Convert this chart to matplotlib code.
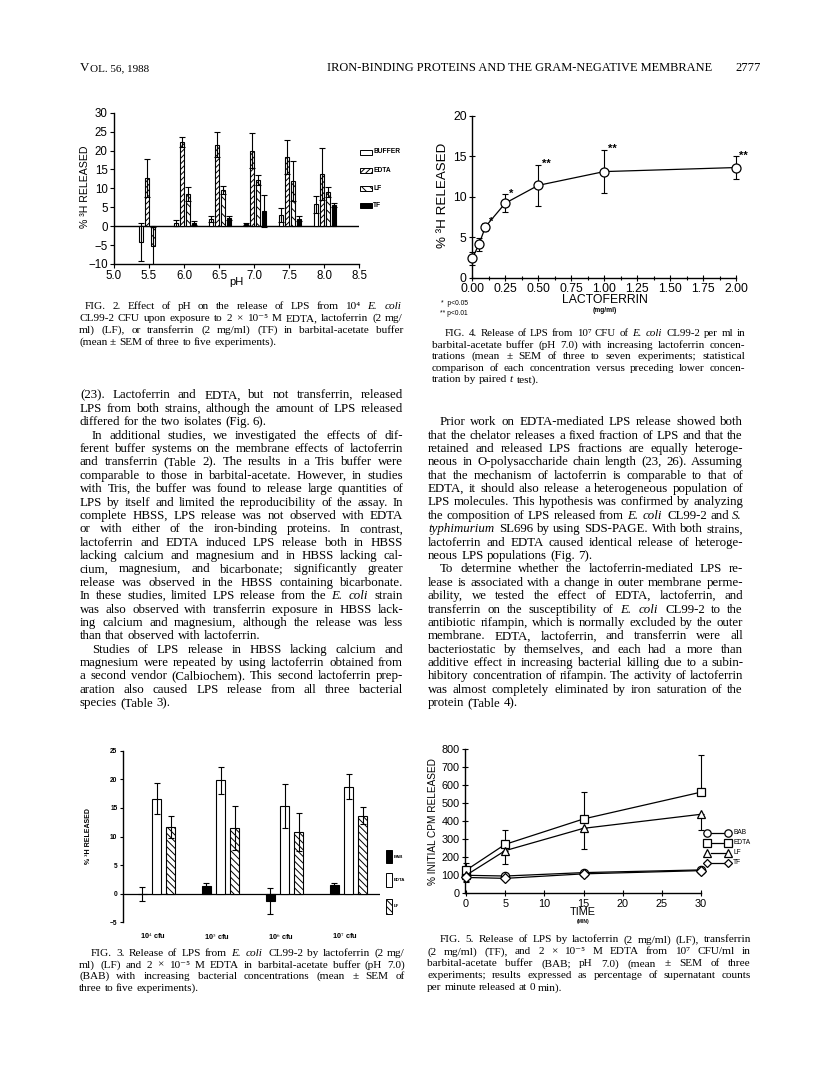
import matplotlib
matplotlib.use('Agg')
import matplotlib.pyplot as plt
from matplotlib.patches import Rectangle
from matplotlib.lines import Line2D
import numpy as np

plt.rcParams['mathtext.fontset'] = 'stix'
plt.rcParams['hatch.linewidth'] = 0.7

SERIF = ['Liberation Serif', 'DejaVu Serif']
SANS = 'Liberation Sans'

# ---------------- data ----------------
# Fig. 2: release vs pH
ph = [5.5, 6.0, 6.5, 7.0, 7.5, 8.0]
buffer2 = [-4.2, 0.8, 1.8, 0.5, 3.0, 5.8]
buffer2_err = [5.0, 0.8, 0.8, 0.3, 1.8, 2.2]
edta2 = [12.8, 22.3, 21.5, 20.0, 18.3, 13.8]
edta2_err = [5.0, 1.3, 3.3, 4.6, 4.5, 6.9]
lf2 = [-5.2, 8.5, 9.6, 12.2, 12.0, 9.0]
lf2_err = [5.0, 1.9, 1.0, 1.4, 5.3, 1.3]
tf2 = [np.nan, 0.8, 2.2, 4.0, 2.0, 5.6]
tf2_err = [np.nan, 0.6, 0.6, 4.2, 0.6, 0.5]
labels2 = ['BUFFER', 'EDTA', 'LF', 'TF']

# Fig. 4: release vs lactoferrin concentration
lacto = [0.0, 0.05, 0.1, 0.25, 0.5, 1.0, 2.0]
rel4 = [2.4, 4.1, 6.3, 9.2, 11.4, 13.1, 13.6]
rel4_err = [0.8, 0.8, 0.5, 1.1, 2.5, 2.7, 1.4]
stars4 = ['', '', '*', '*', '**', '**', '**']

# Fig. 3: release vs bacterial concentration
cfu = ['10$^4$ cfu', '10$^5$ cfu', '10$^6$ cfu', '10$^7$ cfu']
bab3 = [0.0, 1.3, -1.3, 1.6]
bab3_err = [1.2, 0.5, 2.3, 0.2]
edta3 = [16.6, 19.8, 15.3, 18.7]
edta3_err = [2.7, 2.4, 3.8, 2.2]
lf3 = [11.7, 11.5, 10.8, 13.6]
lf3_err = [1.9, 3.8, 3.3, 1.5]

# Fig. 5: release vs time
time5 = [0, 5, 15, 30]
bab5 = [100, 96, 115, 130]
edta5 = [128, 272, 413, 562]
edta5_err = [40, 80, 150, 205]
lf5 = [100, 237, 361, 439]
lf5_err = [30, 74, 117, 88]
tf5 = [88, 83, 108, 126]
tf5_err = [25, 10, 8, 8]

# ---------------- page text ----------------
header_title = 'IRON-BINDING PROTEINS AND THE GRAM-NEGATIVE MEMBRANE'

cap2 = ['FIG. 2. Effect of pH on the release of LPS from 10⁴ _E._ _coli_',
        'CL99-2 CFU upon exposure to 2 × 10⁻⁵ M EDTA, lactoferrin (2 mg/',
        'ml) (LF), or transferrin (2 mg/ml) (TF) in barbital-acetate buffer',
        '(mean ± SEM of three to five experiments).']
cap3 = ['FIG. 3. Release of LPS from _E._ _coli_ CL99-2 by lactoferrin (2 mg/',
        'ml) (LF) and 2 × 10⁻⁵ M EDTA in barbital-acetate buffer (pH 7.0)',
        '(BAB) with increasing bacterial concentrations (mean ± SEM of',
        'three to five experiments).']
cap4 = ['FIG. 4. Release of LPS from 10⁷ CFU of _E._ _coli_ CL99-2 per ml in',
        'barbital-acetate buffer (pH 7.0) with increasing lactoferrin concen-',
        'trations (mean ± SEM of three to seven experiments; statistical',
        'comparison of each concentration versus preceding lower concen-',
        'tration by paired _t_ test).']
cap5 = ['FIG. 5. Release of LPS by lactoferrin (2 mg/ml) (LF), transferrin',
        '(2 mg/ml) (TF), and 2 × 10⁻⁵ M EDTA from 10⁷ CFU/ml in',
        'barbital-acetate buffer (BAB; pH 7.0) (mean ± SEM of three',
        'experiments; results expressed as percentage of supernatant counts',
        'per minute released at 0 min).']

left_text = [
    (False, ['(23). Lactoferrin and EDTA, but not transferrin, released',
             'LPS from both strains, although the amount of LPS released',
             'differed for the two isolates (Fig. 6).']),
    (True, ['In additional studies, we investigated the effects of dif-',
            'ferent buffer systems on the membrane effects of lactoferrin',
            'and transferrin (Table 2). The results in a Tris buffer were',
            'comparable to those in barbital-acetate. However, in studies',
            'with Tris, the buffer was found to release large quantities of',
            'LPS by itself and limited the reproducibility of the assay. In',
            'complete HBSS, LPS release was not observed with EDTA',
            'or with either of the iron-binding proteins. In contrast,',
            'lactoferrin and EDTA induced LPS release both in HBSS',
            'lacking calcium and magnesium and in HBSS lacking cal-',
            'cium, magnesium, and bicarbonate; significantly greater',
            'release was observed in the HBSS containing bicarbonate.',
            'In these studies, limited LPS release from the _E._ _coli_ strain',
            'was also observed with transferrin exposure in HBSS lack-',
            'ing calcium and magnesium, although the release was less',
            'than that observed with lactoferrin.']),
    (True, ['Studies of LPS release in HBSS lacking calcium and',
            'magnesium were repeated by using lactoferrin obtained from',
            'a second vendor (Calbiochem). This second lactoferrin prep-',
            'aration also caused LPS release from all three bacterial',
            'species (Table 3).']),
]

right_text = [
    (True, ['Prior work on EDTA-mediated LPS release showed both',
            'that the chelator releases a fixed fraction of LPS and that the',
            'retained and released LPS fractions are equally heteroge-',
            'neous in O-polysaccharide chain length (23, 26). Assuming',
            'that the mechanism of lactoferrin is comparable to that of',
            'EDTA, it should also release a heterogeneous population of',
            'LPS molecules. This hypothesis was confirmed by analyzing',
            'the composition of LPS released from _E._ _coli_ CL99-2 and _S._',
            '_typhimurium_ SL696 by using SDS-PAGE. With both strains,',
            'lactoferrin and EDTA caused identical release of heteroge-',
            'neous LPS populations (Fig. 7).']),
    (True, ['To determine whether the lactoferrin-mediated LPS re-',
            'lease is associated with a change in outer membrane perme-',
            'ability, we tested the effect of EDTA, lactoferrin, and',
            'transferrin on the susceptibility of _E._ _coli_ CL99-2 to the',
            'antibiotic rifampin, which is normally excluded by the outer',
            'membrane. EDTA, lactoferrin, and transferrin were all',
            'bacteriostatic by themselves, and each had a more than',
            'additive effect in increasing bacterial killing due to a subin-',
            'hibitory concentration of rifampin. The activity of lactoferrin',
            'was almost completely eliminated by iron saturation of the',
            'protein (Table 4).']),
]

# ---------------- page setup ----------------
W, H = 816, 1077
fig = plt.figure(figsize=(W / 100, H / 100), dpi=100)
renderer = fig.canvas.get_renderer()


def fx(x):
    return x / W


def fy(y):
    return 1 - y / H


def axes_px(left, top, right, bottom):
    return fig.add_axes([fx(left), fy(bottom), (right - left) / W, (bottom - top) / H])


def make_words(line, y, size):
    items = []
    total = 0
    for tok in line.split():
        style = 'normal'
        if len(tok) > 2 and tok.startswith('_') and tok.endswith('_'):
            tok = tok[1:-1]
            style = 'italic'
        t = fig.text(0, fy(y), tok, fontsize=size, family=SERIF,
                     style=style, va='baseline', ha='left')
        w = t.get_window_extent(renderer).width
        if style == 'italic':
            w += 1.2  # italic overhang
        items.append((t, w))
        total += w
    return items, total


def place_line(x0, x1, y, line, size, justify):
    items, total = make_words(line, y, size)
    n = len(items)
    # shrink a too-long line until the word gaps are still visible
    while n > 1 and (x1 - x0 - total) / (n - 1) < 3.0:
        for t, _ in items:
            t.remove()
        size *= 0.97
        items, total = make_words(line, y, size)
    gap = size * 100 / 72 * 0.25
    if justify and n > 1:
        gap = (x1 - x0 - total) / (n - 1)
    x = x0
    for t, w in items:
        t.set_x(fx(x))
        x += w + gap


def column(x0, x1, y0, step, paragraphs, size, indent):
    k = 0
    for ind, lines in paragraphs:
        for i, line in enumerate(lines):
            xs = x0 + (indent if (ind and i == 0) else 0)
            place_line(xs, x1, y0 + k * step, line, size, i < len(lines) - 1)
            k += 1


# header
v = fig.text(fx(80), fy(71), 'V', fontsize=9.4, family=SERIF, va='baseline')
vw = v.get_window_extent(renderer).width
fig.text(fx(80 + vw + 0.3), fy(71), 'OL. 56, 1988', fontsize=8.0, family=SERIF, va='baseline')
fig.text(fx(327), fy(71), header_title, fontsize=8.9, family=SERIF, va='baseline')
fig.text(fx(735), fy(71), '2777', fontsize=9.0, family=SERIF, va='baseline')

# body text and captions
column(80, 403, 398.5, 13.38, left_text, 9.3, 12)
column(428, 743, 425.2, 13.38, right_text, 9.3, 12)
column(79, 403, 309, 12.0, [(True, cap2)], 8.1, 6)
column(79, 405, 956, 11.6, [(True, cap3)], 8.1, 12)
column(432, 745, 336, 11.6, [(True, cap4)], 8.1, 13)
column(427, 751, 942.5, 12.0, [(True, cap5)], 8.1, 13)


def style_axes(ax):
    for s in ['top', 'right']:
        ax.spines[s].set_visible(False)
    for s in ['left', 'bottom']:
        ax.spines[s].set_linewidth(1.0)
    ax.patch.set_alpha(0)


ekw = dict(fmt='none', ecolor='black', elinewidth=0.8, capsize=2, capthick=0.8, zorder=4)

# ---------------- Fig. 2 ----------------
ax2 = axes_px(114, 112.7, 359, 264)
style_axes(ax2)
offsets2 = [-0.11, -0.025, 0.06, 0.145]
series2 = [(buffer2, buffer2_err, 'white', ''),
           (edta2, edta2_err, 'white', '//////'),
           (lf2, lf2_err, 'white', '\\\\\\\\'),
           (tf2, tf2_err, 'black', '')]
for off, (vals, errs, fc, hatch) in zip(offsets2, series2):
    xs = np.array(ph) + off
    v = np.array(vals, dtype=float)
    e = np.array(errs, dtype=float)
    ok = ~np.isnan(v)
    ax2.bar(xs[ok], v[ok], width=0.058, color=fc, edgecolor='black',
            linewidth=0.8, hatch=hatch, zorder=3)
    ax2.errorbar(xs[ok], v[ok], yerr=e[ok], **ekw)
ax2.axhline(0, color='black', linewidth=1.0, zorder=2)
ax2.set_xlim(5.0, 8.5)
ax2.set_ylim(-10, 30)
ax2.set_xticks(np.arange(5.0, 8.51, 0.5))
ax2.set_xticklabels(['%.1f' % t for t in np.arange(5.0, 8.51, 0.5)])
ax2.set_yticks(np.arange(-10, 31, 5))
ax2.tick_params(direction='out', length=3, width=0.8, pad=1.5, labelsize=8.3)
for lab in ax2.get_xticklabels() + ax2.get_yticklabels():
    lab.set_family(SANS)
fig.text(fx(85), fy(186.7), '% ³H RELEASED', rotation=90, ha='center', va='center',
         fontsize=7.6, family=SANS)
fig.text(fx(236.5), fy(282), 'pH', ha='center', va='center', fontsize=8, family=SANS)
leg_y2 = [152, 170, 188.3, 205.7]
for (vals, errs, fc, hatch), lab, yy in zip(series2, labels2, leg_y2):
    fig.add_artist(Rectangle((fx(360), fy(yy + 2.5)), 12 / W, 5 / H, transform=fig.transFigure,
                             facecolor=fc, edgecolor='black', linewidth=0.7, hatch=hatch))
    fig.text(fx(373), fy(yy), lab, fontsize=4.8, family=SANS, va='center', weight='bold')

# ---------------- Fig. 4 ----------------
ax4 = axes_px(472.3, 115.7, 736, 277.7)
style_axes(ax4)
ax4.plot(lacto, rel4, color='black', linewidth=0.9, zorder=2)
ax4.errorbar(lacto, rel4, yerr=rel4_err, fmt='none', ecolor='black', elinewidth=0.8,
             capsize=2.2, capthick=0.8, zorder=3, clip_on=False)
ax4.plot(lacto, rel4, 'o', markersize=6.5, markerfacecolor='white', markeredgecolor='black',
         markeredgewidth=0.9, linestyle='none', zorder=4, clip_on=False)
for x, y, e, s in zip(lacto, rel4, rel4_err, stars4):
    if s:
        ax4.annotate(s, xy=(x, y + e), xytext=(2.5, -3), textcoords='offset points',
                     ha='left', va='bottom', fontsize=8, family=SANS, weight='bold')
ax4.set_xlim(0, 2.0)
ax4.set_ylim(0, 20)
ax4.set_xticks(np.arange(0, 2.01, 0.25))
ax4.set_xticklabels(['%.2f' % t for t in np.arange(0, 2.01, 0.25)])
ax4.set_xticks(np.arange(0.125, 2.0, 0.25), minor=True)
ax4.set_yticks(np.arange(0, 21, 5))
ax4.tick_params(direction='inout', length=4, width=0.8, pad=2, labelsize=8.8)
ax4.tick_params(which='minor', direction='inout', length=3, width=0.8)
for lab in ax4.get_xticklabels() + ax4.get_yticklabels():
    lab.set_family(SANS)
fig.text(fx(443), fy(195), '% ³H RELEASED', rotation=90, ha='center', va='center',
         fontsize=9.6, family=SANS)
fig.text(fx(605), fy(300), 'LACTOFERRIN', ha='center', va='center', fontsize=8.8, family=SANS)
fig.text(fx(605), fy(310.5), '(mg/ml)', ha='center', va='center', fontsize=4.8,
         family=SANS, weight='bold')
fig.text(fx(441), fy(303.3), '*  p<0.05', ha='left', va='center', fontsize=4.8, family=SANS)
fig.text(fx(440), fy(313.3), '** p<0.01', ha='left', va='center', fontsize=4.8, family=SANS)

# ---------------- Fig. 3 ----------------
ax3 = axes_px(123, 750.7, 380, 922.3)
style_axes(ax3)
ax3.spines['bottom'].set_visible(False)
pos3 = np.arange(len(cfu))
offsets3 = [-0.227, 0.0, 0.22]
series3 = [(bab3, bab3_err, 'black', ''),
           (edta3, edta3_err, 'white', ''),
           (lf3, lf3_err, 'white', '\\\\\\\\\\')]
for off, (vals, errs, fc, hatch) in zip(offsets3, series3):
    ax3.bar(pos3 + off, vals, width=0.14, color=fc, edgecolor='black', linewidth=0.8,
            hatch=hatch, zorder=3)
    ax3.errorbar(pos3 + off, vals, yerr=errs, **ekw)
ax3.axhline(0, color='black', linewidth=0.9, zorder=2)
ax3.set_xlim(-0.527, 3.49)
ax3.set_ylim(-5, 25)
ax3.set_xticks([])
ax3.set_yticks(np.arange(-5, 26, 5))
ax3.tick_params(axis='y', direction='out', length=2.5, width=0.8, pad=1.5, labelsize=4.8)
for lab in ax3.get_yticklabels():
    lab.set_family(SANS)
    lab.set_weight('bold')
for p, lab in zip(pos3, cfu):
    ax3.text(p - 0.06, -7.5, lab, ha='center', va='center', fontsize=5.3, family=SANS,
             weight='bold', clip_on=False)
fig.text(fx(88), fy(836), '% ³H RELEASED', rotation=90, ha='center', va='center',
         fontsize=5.0, family=SANS, weight='bold')
leg_y3 = [856.5, 880, 906]
leg_h3 = [13, 14, 15]
for (vals, errs, fc, hatch), lab, yy, hh in zip(series3, ['BAB', 'EDTA', 'LF'], leg_y3, leg_h3):
    fig.add_artist(Rectangle((fx(386), fy(yy + hh / 2)), 6 / W, hh / H, transform=fig.transFigure,
                             facecolor=fc, edgecolor='black', linewidth=0.7, hatch=hatch))
    fig.text(fx(393.5), fy(yy), lab, fontsize=3.2, family=SANS, va='center', weight='bold')

# ---------------- Fig. 5 ----------------
ax5 = axes_px(465, 749.3, 701, 893.3)
style_axes(ax5)
mkw = dict(markersize=6, markerfacecolor='white', markeredgecolor='black',
           markeredgewidth=0.9, clip_on=False, zorder=4)
ebkw = dict(fmt='none', ecolor='black', elinewidth=0.8, capsize=2.2, capthick=0.8, zorder=3)
for vals, errs, up in [(edta5, edta5_err, True), (lf5, lf5_err, False), (tf5, tf5_err, False)]:
    yerr = [np.zeros(4), errs] if up else [errs, np.zeros(4)]
    eb = ax5.errorbar(time5, vals, yerr=yerr, **ebkw)
    for art in eb.lines[1] + eb.lines[2]:
        art.set_clip_on(False)
ax5.plot(time5, bab5, '-o', color='black', linewidth=0.9, **mkw)
ax5.plot(time5, edta5, '-s', color='black', linewidth=0.9, **mkw)
ax5.plot(time5, lf5, '-^', color='black', linewidth=0.9, **mkw)
ax5.plot(time5, tf5, '-D', color='black', linewidth=0.9, markersize=5,
         markerfacecolor='white', markeredgecolor='black', markeredgewidth=0.9,
         clip_on=False, zorder=4)
ax5.set_xlim(-0.13, 30)
ax5.set_ylim(0, 800)
ax5.set_xticks(np.arange(0, 31, 5))
ax5.set_yticks(np.arange(0, 801, 100))
ax5.tick_params(direction='inout', length=4, width=0.8, pad=2, labelsize=7.8)
for lab in ax5.get_xticklabels() + ax5.get_yticklabels():
    lab.set_family(SANS)
fig.text(fx(433), fy(821.5), '% INITIAL CPM RELEASED', rotation=90, ha='center', va='center',
         fontsize=7.2, family=SANS)
fig.text(fx(583), fy(911.7), 'TIME', ha='center', va='center', fontsize=7.8, family=SANS)
fig.text(fx(583), fy(922), '(MIN)', ha='center', va='center', fontsize=3.6, family=SANS,
         weight='bold')
leg_y5 = [832.7, 842.7, 852.7, 862.7]
for mk, lab, yy in zip(['o', 's', '^', 'D'], ['BAB', 'EDTA', 'LF', 'TF'], leg_y5):
    ms = 4.2 if mk == 'D' else 5.3
    fig.add_artist(Line2D([fx(711), fx(724.5)], [fy(yy), fy(yy)], transform=fig.transFigure,
                          color='black', linewidth=0.9))
    fig.add_artist(Line2D([fx(707.3), fx(728.3)], [fy(yy), fy(yy)], transform=fig.transFigure,
                          linestyle='none', marker=mk, markersize=ms, markerfacecolor='white',
                          markeredgecolor='black', markeredgewidth=0.9))
    fig.text(fx(733), fy(yy), lab, fontsize=4.8, family=SANS, va='center')

fig.savefig('out.png', dpi=100)
